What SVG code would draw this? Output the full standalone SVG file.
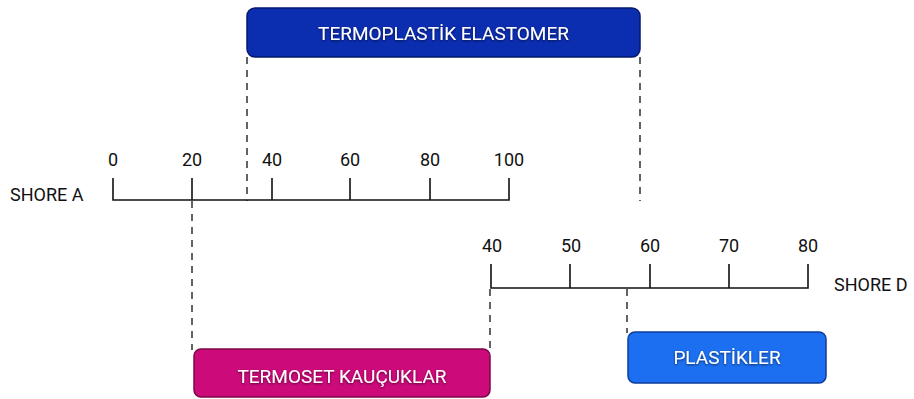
<svg xmlns="http://www.w3.org/2000/svg" width="914" height="399" viewBox="0 0 914 399">
<defs>
<style>
.axis{stroke:#111;stroke-width:1.6;fill:none}
.dash{stroke:#222;stroke-width:1.4;stroke-dasharray:7 6;fill:none}
.num{font-family:Roboto,"Liberation Sans",sans-serif;font-size:18px;fill:#111;text-anchor:middle}
.lbl{font-family:Roboto,"Liberation Sans",sans-serif;font-size:18px;fill:#111}
.btxt{font-family:Roboto,"Liberation Sans",sans-serif;font-size:19px;fill:#fff;text-anchor:middle;dominant-baseline:central}
.box{stroke-width:1.5}
</style>
<filter id="sh" x="-10%" y="-10%" width="120%" height="130%">
<feDropShadow dx="0" dy="1" stdDeviation="1" flood-color="#000" flood-opacity="0.6"/>
</filter>
</defs>
<g id="connectors">
<line class="dash" x1="247" y1="57" x2="247" y2="201"/>
<line class="dash" x1="640" y1="57" x2="640" y2="201"/>
<line class="dash" x1="192" y1="201" x2="192" y2="350"/>
<line class="dash" x1="490" y1="289" x2="490" y2="350"/>
<line class="dash" x1="627" y1="289" x2="627" y2="333"/>
</g>
<g id="shore-a">
<path class="axis" d="M113 178 V200 H509 V178 M192 178 V200 M272 178 V200 M350 178 V200 M430 178 V200"/>
<text class="num" x="113" y="166">0</text>
<text class="num" x="192" y="166">20</text>
<text class="num" x="272" y="166">40</text>
<text class="num" x="350" y="166">60</text>
<text class="num" x="430" y="166">80</text>
<text class="num" x="509" y="166">100</text>
<text class="lbl" x="10" y="201">SHORE A</text>
</g>
<g id="shore-d">
<path class="axis" d="M491 264 V288 H808 V264 M570 264 V288 M650 264 V288 M729 264 V288"/>
<text class="num" x="492" y="252">40</text>
<text class="num" x="571" y="252">50</text>
<text class="num" x="650" y="252">60</text>
<text class="num" x="729" y="252">70</text>
<text class="num" x="808" y="252">80</text>
<text class="lbl" x="834" y="291">SHORE D</text>
</g>
<g id="termoplastik-elastomer">
<rect class="box" x="247" y="8" width="393" height="49" rx="8" fill="#0B2DB0" stroke="#061A6A"/>
<text class="btxt" x="443.5" y="33" filter="url(#sh)">TERMOPLASTİK ELASTOMER</text>
</g>
<g id="termoset-kaucuklar">
<rect class="box" x="194" y="349" width="296" height="48" rx="7" fill="#CC0A7A" stroke="#7A0848"/>
<text class="btxt" x="342" y="376" filter="url(#sh)">TERMOSET KAUÇUKLAR</text>
</g>
<g id="plastikler">
<rect class="box" x="628" y="332" width="198" height="51" rx="7" fill="#1C6FF0" stroke="#0D3E99"/>
<text class="btxt" x="727" y="357" filter="url(#sh)">PLASTİKLER</text>
</g>
</svg>
